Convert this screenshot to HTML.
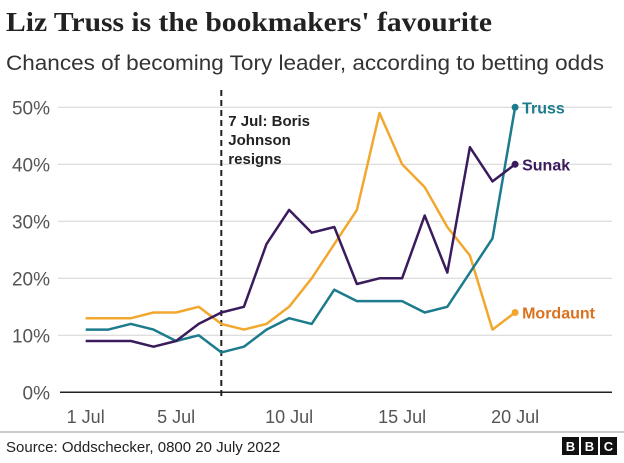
<!DOCTYPE html>
<html><head><meta charset="utf-8"><style>
body{margin:0;background:#fff;width:624px;height:458px;overflow:hidden;font-family:"Liberation Sans",sans-serif}
</style></head><body>
<svg id="chart" width="624" height="458" xmlns="http://www.w3.org/2000/svg">
<text x="6" y="31" font-family="Liberation Serif,serif" font-weight="bold" font-size="27" fill="#222" textLength="486" lengthAdjust="spacingAndGlyphs">Liz Truss is the bookmakers' favourite</text>
<text x="6" y="70" font-size="21" fill="#333" textLength="598" lengthAdjust="spacingAndGlyphs">Chances of becoming Tory leader, according to betting odds</text>
<g id="grid"></g>
<g id="lines"></g>
<line x1="0" y1="432" x2="624" y2="432" stroke="#999" stroke-width="1"/>
<text x="6" y="452" font-size="15" fill="#222">Source: Oddschecker, 0800 20 July 2022</text>
<g>
<rect x="562" y="437" width="17" height="18" fill="#111"/><rect x="581" y="437" width="17" height="18" fill="#111"/><rect x="600" y="437" width="17" height="18" fill="#111"/>
<text x="570.5" y="451" font-size="13" font-weight="bold" fill="#fff" text-anchor="middle">B</text>
<text x="589.5" y="451" font-size="13" font-weight="bold" fill="#fff" text-anchor="middle">B</text>
<text x="608.5" y="451" font-size="13" font-weight="bold" fill="#fff" text-anchor="middle">C</text>
</g>
</svg>
<script>
const days = [1,2,3,4,5,6,7,8,9,10,11,12,13,14,15,16,17,18,19,20];
const truss = [11,11,12,11,9,10,7,8,11,13,12,18,16,16,16,14,15,21,27,50];
const sunak = [9,9,9,8,9,12,14,15,26,32,28,29,19,20,20,31,21,43,37,40];
const mordaunt = [13,13,13,14,14,15,12,11,12,15,20,26,32,49,40,36,29,24,11,14];
const yTicks = [0,10,20,30,40,50];
const xTickDays = [1,5,10,15,20];
const xTickLabels = ["1 Jul","5 Jul","10 Jul","15 Jul","20 Jul"];
const eventDay = 7;

const NS="http://www.w3.org/2000/svg";
const x = d => 85.7 + (d-1)*22.6;
const y = v => 392.3 - v*5.7;
const grid=document.getElementById('grid'), lines=document.getElementById('lines');
function mk(tag, attrs, parent){const e=document.createElementNS(NS,tag);for(const k in attrs)e.setAttribute(k,attrs[k]);parent.appendChild(e);return e;}

yTicks.forEach(t=>{
  if(t>0){const g=mk('line',{x1:58,x2:612,y1:y(t),y2:y(t),stroke:'#d4d4d4','stroke-width':1},grid);
  
  }
  const l=mk('text',{x:50,y:y(t)+7,'text-anchor':'end','font-size':19,fill:'#555'},grid);
  l.textContent=t+'%';
  
  
});
xTickDays.forEach((d,i)=>{
  const l=mk('text',{x:x(d),y:423,'text-anchor':'middle','font-size':18,fill:'#555'},grid);
  l.textContent=xTickLabels[i];
  
  
});
const ax=mk('line',{x1:60,x2:612,y1:y(0),y2:y(0),stroke:'#222','stroke-width':1.5},grid);


const ev=mk('line',{x1:x(eventDay),x2:x(eventDay),y1:90,y2:y(0)+5,stroke:'#222','stroke-width':2,'stroke-dasharray':'6,4'},grid);


["7 Jul: Boris","Johnson","resigns"].forEach((s,i)=>{
  const t=mk('text',{x:x(eventDay)+7,y:126+i*19,'font-size':15,'font-weight':'bold',fill:'#222'},grid);
  t.textContent=s;
  
  
});
const series=[["mordaunt",mordaunt,"#f2a82f","#d9711e","Mordaunt"],["truss",truss,"#1c7b8c","#1c7b8c","Truss"],["sunak",sunak,"#3a1b5c","#3a1b5c","Sunak"]];
series.forEach(([n,vals,c,lc,name])=>{
  const p=mk('polyline',{points:vals.map((v,i)=>x(days[i])+','+y(v)).join(' '),fill:'none',stroke:c,'stroke-width':2.5,'stroke-linejoin':'round'},lines);
  
  
  const last=vals.length-1;
  const dot=mk('circle',{cx:x(days[last]),cy:y(vals[last]),r:3.5,fill:c},lines);
  
  
  const lb=mk('text',{x:x(days[last])+7,y:y(vals[last])+6,'font-size':16,'font-weight':'bold',fill:lc},lines);
  lb.textContent=name;
  
  
});
</script>
</body></html>
